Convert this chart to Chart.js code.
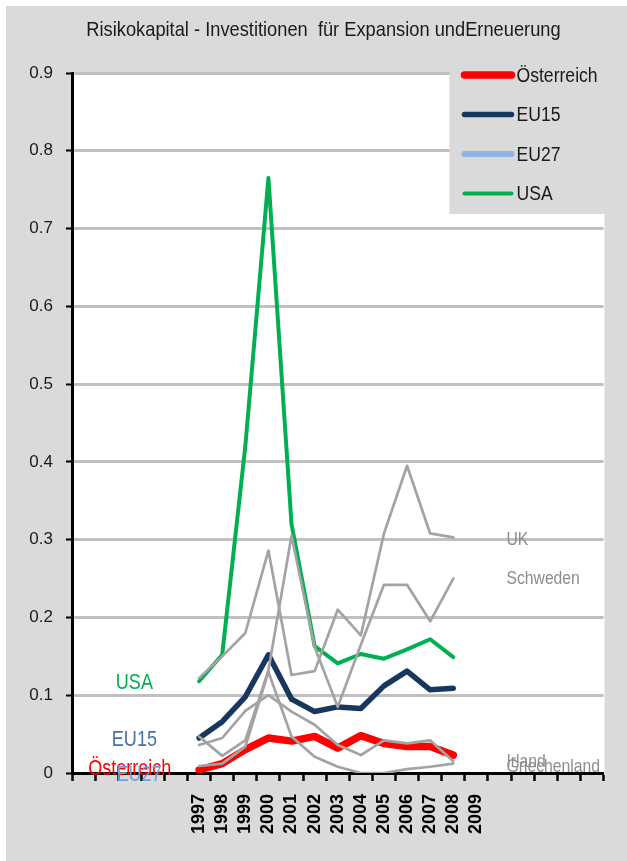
<!DOCTYPE html>
<html>
<head>
<meta charset="utf-8">
<script src="https://cdn.jsdelivr.net/npm/chart.js@4.4.0/dist/chart.umd.min.js"></script>
<style>
  html, body { margin: 0; padding: 0; background: #fff; }
</style>
</head>
<body>
<canvas id="chart" width="627" height="861"></canvas>
<script>
// years shown on the axis, with empty slots on both sides like the original sheet
const years = ['1997', '1998', '1999', '2000', '2001', '2002', '2003', '2004', '2005', '2006', '2007', '2008', '2009'];
const categories = ['', '', '', '', '', ...years, '', '', '', '', ''];

// values 1997..2008
const oesterreich = [0.004, 0.012, 0.030, 0.045, 0.041, 0.047, 0.032, 0.048, 0.038, 0.034, 0.034, 0.023];
const eu15 = [0.045, 0.066, 0.098, 0.152, 0.095, 0.079, 0.085, 0.083, 0.112, 0.131, 0.107, 0.109];
const eu27 = [];
const usa = [0.118, 0.152, 0.420, 0.765, 0.320, 0.163, 0.141, 0.153, 0.147, 0.159, 0.172, 0.149];
const uk = [0.122, 0.150, 0.180, 0.286, 0.126, 0.131, 0.210, 0.177, 0.308, 0.395, 0.308, 0.303];
const schweden = [0.047, 0.022, 0.042, 0.132, 0.305, 0.162, 0.085, 0.165, 0.242, 0.242, 0.195, 0.250];
const irland = [0.036, 0.045, 0.080, 0.100, 0.079, 0.062, 0.036, 0.023, 0.042, 0.038, 0.042, 0.015];
const griechenland = [0.009, 0.012, 0.034, 0.130, 0.047, 0.021, 0.008, 0.000, 0.000, 0.005, 0.008, 0.012];

const title = 'Risikokapital - Investitionen  für Expansion undErneuerung';

// text labels placed beside the lines (category index, value)
const leftLabels = [
    { text: 'USA', color: '#00b050', at: 2.2, value: 0.116 },
    { text: 'EU15', color: '#4a6fa5', at: 2.2, value: 0.042 },
    { text: 'Österreich', color: '#ff0000', at: 2.0, value: 0.005 },
    { text: 'EU27', color: '#6f9fda', at: 2.4, value: -0.003 }
];
const rightLabels = [
    { text: 'UK', at: 18.3, value: 0.300 },
    { text: 'Schweden', at: 18.3, value: 0.250 },
    { text: 'Irland', at: 18.3, value: 0.014 },
    { text: 'Griechenland', at: 18.3, value: 0.008 }
];

const sans = "'Liberation Sans', Arial, sans-serif";
const firstYear = categories.indexOf('1997');

// place the yearly values into the full category list
const toSeries = (values) => {
    const out = new Array(categories.length).fill(null);
    values.forEach((v, i) => { out[firstYear + i] = v; });
    return out;
};

// no narrow font installed, so squeeze the text horizontally instead
const narrowText = (ctx, text, x, y, sx) => {
    ctx.save();
    ctx.translate(x, y);
    ctx.scale(sx, 1);
    ctx.fillText(text, 0, 0);
    ctx.restore();
};

const grey = '#a3a3a3';

// background, grey frame, white plot area and title
const backdrop = {
    id: 'backdrop',
    beforeDraw(chart) {
        const { ctx, chartArea, width, height } = chart;
        ctx.save();
        ctx.fillStyle = '#ffffff';
        ctx.fillRect(0, 0, width, height);
        ctx.fillStyle = '#dadada';
        ctx.fillRect(6, 6, width - 6, height - 6);
        ctx.fillStyle = '#ffffff';
        ctx.fillRect(chartArea.left, chartArea.top, chartArea.right - chartArea.left + 1, chartArea.bottom - chartArea.top);

        ctx.fillStyle = '#1a1a1a';
        ctx.font = '21px ' + sans;
        ctx.textAlign = 'center';
        ctx.textBaseline = 'middle';
        narrowText(ctx, title, width / 2 + 10, 30, 0.87);
        ctx.restore();
    }
};

// legend box drawn over the top right of the plot, plus the side labels
const overlay = {
    id: 'overlay',
    afterDraw(chart) {
        const { ctx, chartArea, scales } = chart;
        ctx.save();

        const left = chartArea.right - 154;
        const top = chartArea.top - 17;
        ctx.fillStyle = '#dadada';
        ctx.fillRect(left, top, 158, 158);
        chart.data.datasets.filter(d => d.inLegend).forEach((d, i) => {
            const y = top + 19 + i * 39.5;
            ctx.strokeStyle = d.borderColor;
            ctx.lineWidth = d.borderWidth;
            ctx.lineCap = 'round';
            ctx.beginPath();
            ctx.moveTo(left + 15, y);
            ctx.lineTo(left + 62, y);
            ctx.stroke();
            ctx.fillStyle = '#1a1a1a';
            ctx.font = '20px ' + sans;
            ctx.textAlign = 'left';
            ctx.textBaseline = 'middle';
            narrowText(ctx, d.label, left + 67, y + 1, 0.88);
        });

        ctx.textBaseline = 'middle';
        ctx.textAlign = 'center';
        ctx.font = '22px ' + sans;
        leftLabels.forEach(l => {
            ctx.fillStyle = l.color;
            narrowText(ctx, l.text, scales.x.getPixelForValue(l.at), scales.y.getPixelForValue(l.value), 0.82);
        });

        ctx.textAlign = 'left';
        ctx.font = '18.5px ' + sans;
        ctx.fillStyle = '#8c8c8c';
        rightLabels.forEach(l => {
            narrowText(ctx, l.text, scales.x.getPixelForValue(l.at), scales.y.getPixelForValue(l.value), 0.85);
        });
        ctx.restore();
    }
};

const line = (label, values, color, width, inLegend) => ({
    label: label,
    data: toSeries(values),
    borderColor: color,
    backgroundColor: color,
    borderWidth: width,
    inLegend: inLegend,
    order: inLegend ? 1 : 0 // grey lines sit on top
});

new Chart(document.getElementById('chart'), {
    type: 'line',
    data: {
        labels: categories,
        datasets: [
            line('Österreich', oesterreich, '#ff0000', 7.5, true),
            line('EU15', eu15, '#17375e', 5.5, true),
            line('EU27', eu27, '#8eb4e3', 6, true),
            line('USA', usa, '#00b050', 4, true),
            line('UK', uk, grey, 2.7, false),
            line('Schweden', schweden, grey, 2.7, false),
            line('Irland', irland, grey, 2.7, false),
            line('Griechenland', griechenland, grey, 2.7, false)
        ]
    },
    options: {
        responsive: false,
        animation: false,
        layout: { padding: { left: 0, right: 22, top: 73, bottom: 0 } },
        elements: {
            point: { radius: 0 },
            line: { tension: 0, borderCapStyle: 'round', borderJoinStyle: 'round' }
        },
        plugins: {
            legend: { display: false },
            tooltip: { enabled: false },
            title: { display: false }
        },
        scales: {
            x: {
                type: 'category',
                offset: true,
                grid: { offset: true, drawOnChartArea: false, drawTicks: true, tickLength: 8, tickColor: '#000', tickWidth: 2.5 },
                border: { color: '#000', width: 3 },
                ticks: {
                    autoSkip: false, maxRotation: 90, minRotation: 90, padding: 13,
                    color: '#000', font: { family: sans, size: 18, weight: 'bold' }
                },
                afterFit: (s) => { s.height = 88; }
            },
            y: {
                min: 0,
                max: 0.9,
                ticks: {
                    stepSize: 0.1, padding: 13, color: '#1a1a1a',
                    font: { family: sans, size: 17 },
                    callback: (v) => String(+v.toFixed(1))
                },
                grid: { color: '#c0c0c0', lineWidth: 3, tickColor: '#000', tickLength: 6, tickWidth: 2 },
                border: { color: '#000', width: 3 },
                afterFit: (s) => { s.width = 72; }
            }
        }
    },
    plugins: [backdrop, overlay]
});
</script>
</body>
</html>
